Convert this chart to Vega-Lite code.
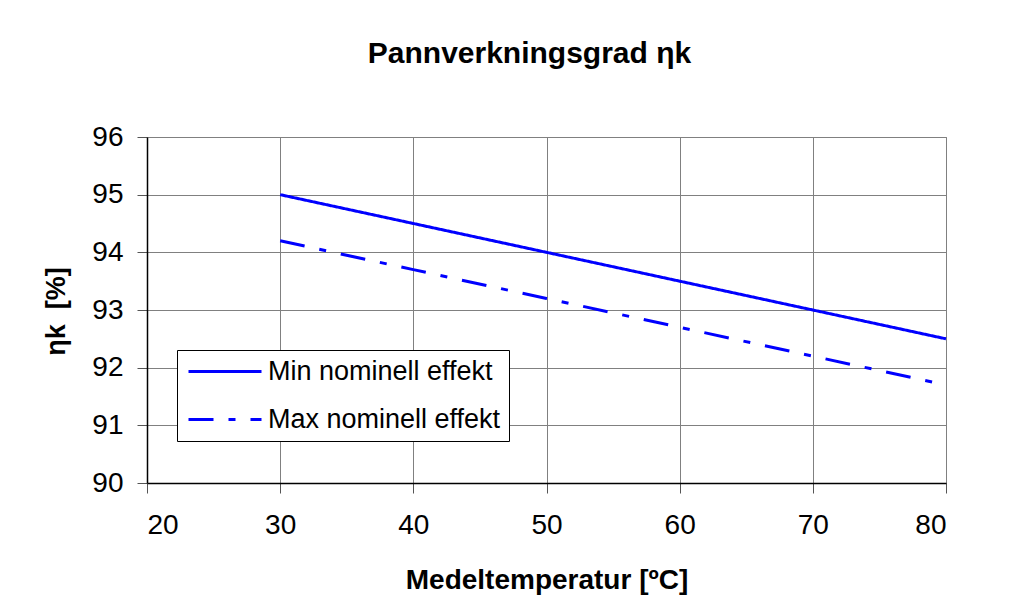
{
  "$schema": "https://vega.github.io/schema/vega-lite/v6.json",
  "width": 799,
  "height": 346,
  "autosize": {"type": "none"},
  "padding": {"left": 147, "top": 137, "right": 86, "bottom": 129},
  "background": "white",
  "title": {
    "text": "Pannverkningsgrad ηk",
    "frame": "group",
    "anchor": "middle",
    "baseline": "alphabetic",
    "offset": 30,
    "dx": -17,
    "font": "Liberation Sans",
    "fontSize": 30,
    "fontWeight": "bold",
    "color": "black"
  },
  "data": {
    "values": [
      {"t": 30, "eta": 95.0, "serie": "Min nominell effekt"},
      {"t": 40, "eta": 94.5, "serie": "Min nominell effekt"},
      {"t": 50, "eta": 94.0, "serie": "Min nominell effekt"},
      {"t": 60, "eta": 93.5, "serie": "Min nominell effekt"},
      {"t": 70, "eta": 93.0, "serie": "Min nominell effekt"},
      {"t": 80, "eta": 92.5, "serie": "Min nominell effekt"},
      {"t": 30, "eta": 94.2, "serie": "Max nominell effekt"},
      {"t": 40, "eta": 93.7, "serie": "Max nominell effekt"},
      {"t": 50, "eta": 93.2, "serie": "Max nominell effekt"},
      {"t": 60, "eta": 92.7, "serie": "Max nominell effekt"},
      {"t": 70, "eta": 92.2, "serie": "Max nominell effekt"},
      {"t": 80, "eta": 91.7, "serie": "Max nominell effekt"}
    ]
  },
  "mark": {"type": "line", "color": "#0000ff", "strokeWidth": 3, "clip": false},
  "encoding": {
    "x": {
      "field": "t",
      "type": "quantitative",
      "scale": {"domain": [20, 80], "nice": false},
      "axis": {
        "values": [20, 30, 40, 50, 60, 70, 80],
        "title": "Medeltemperatur [ºC]",
        "titleY": 105,
        "titleBaseline": "alphabetic",
        "titleFontSize": 28,
        "labelFontSize": 28,
        "labelPadding": 18,
        "tickSize": 10
      }
    },
    "y": {
      "field": "eta",
      "type": "quantitative",
      "scale": {"domain": [90, 96], "nice": false, "zero": false},
      "axis": {
        "values": [90, 91, 92, 93, 94, 95, 96],
        "title": "ηk\u00a0\u00a0[%]",
        "titleX": -83,
        "titleY": 174,
        "titleAlign": "center",
        "titleAngle": -90,
        "titleBaseline": "alphabetic",
        "titleFontSize": 27,
        "labelFontSize": 28,
        "labelPadding": 14,
        "tickSize": 10
      }
    },
    "strokeDash": {
      "field": "serie",
      "type": "nominal",
      "sort": ["Min nominell effekt", "Max nominell effekt"],
      "scale": {
        "domain": ["Min nominell effekt", "Max nominell effekt"],
        "range": [[1, 0], [25, 15, 7, 15]]
      },
      "legend": {
        "title": null,
        "orient": "none",
        "legendX": 30,
        "legendY": 213,
        "symbolType": "M-1,0H6.3",
        "symbolSize": 400,
        "symbolStrokeWidth": 3,
        "symbolStrokeColor": "#0000ff",
        "labelFontSize": 27,
        "labelOffset": 56,
        "padding": 8,
        "rowPadding": 20,
        "strokeColor": "black",
        "fillColor": "white",
        "labelLimit": 400
      }
    }
  },
  "config": {
    "font": "Liberation Sans",
    "view": {"stroke": "#808080", "strokeWidth": 1},
    "axis": {
      "grid": true,
      "gridColor": "#808080",
      "gridOpacity": 1,
      "gridWidth": 1,
      "domainColor": "black",
      "domainWidth": 1.5,
      "tickColor": "#555555",
      "tickWidth": 1,
      "labelColor": "black",
      "labelFont": "Liberation Sans",
      "titleColor": "black",
      "titleFont": "Liberation Sans",
      "titleFontWeight": "bold"
    },
    "legend": {
      "labelColor": "black",
      "labelFont": "Liberation Sans"
    }
  }
}
